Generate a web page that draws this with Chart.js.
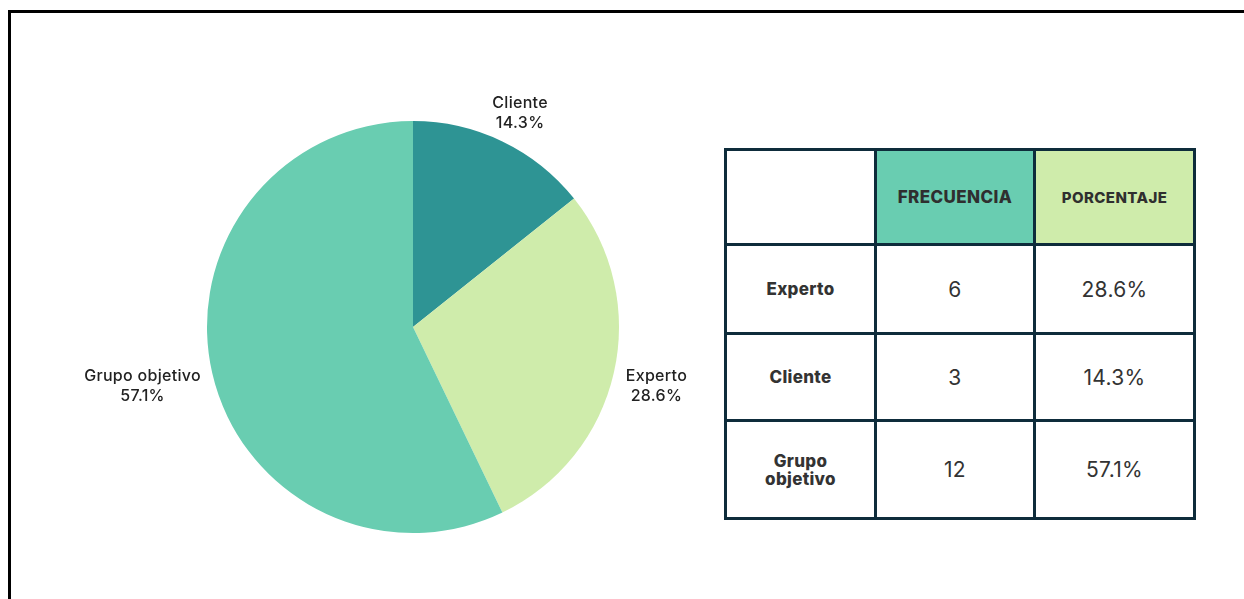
<!DOCTYPE html>
<html lang="es">
<head>
<meta charset="utf-8">
<title>Frecuencia por tipo</title>
<script src="https://cdn.jsdelivr.net/npm/chart.js@4/dist/chart.umd.min.js"></script>
<style>
  html, body { margin: 0; padding: 0; background: #fff; overflow: hidden; }
  body { width: 1244px; height: 599px; position: relative; font-family: Inter, "Noto Sans", sans-serif; }
  .marco { position: absolute; left: 8px; top: 10px; width: 1300px; height: 700px;
           border-top: 3px solid #000; border-left: 3px solid #000; }
  #pieBox { position: absolute; left: 0; top: 0; width: 720px; height: 599px; }
  /* tabla: fondo oscuro + gap = lineas de la rejilla */
  .tabla { position: absolute; left: 724px; top: 148px; display: grid;
           grid-template-columns: 147px 156px 157px; grid-template-rows: 92px 86px 84px 95px;
           gap: 3px; padding: 3px; background: #0e2c3b; }
  .tabla div { background: #fff; display: flex; align-items: center; justify-content: center;
               text-align: center; color: #333; }
  .tabla .cab { font-weight: 800; font-size: 17px; letter-spacing: 0.4px; color: #2f2f2f; }
  .tabla .cab.frec { background: #69cdb1; }
  .tabla .cab.porc { background: #cfecab; font-size: 15px; }
  .tabla .fila { font-weight: 800; font-size: 17px; line-height: 18px; letter-spacing: 0.3px; }
  .tabla .val { font-size: 21px; font-weight: 400; letter-spacing: 0.3px; }
</style>
</head>
<body>
<div class="marco"></div>
<div id="pieBox"><canvas id="pieChart" width="720" height="599"></canvas></div>
<div class="tabla" id="tabla"></div>

<script>
// --- datos ---
const categorias = ['Cliente', 'Experto', 'Grupo objetivo'];
const frecuencias = [3, 6, 12];
const colores = ['#2e9494', '#cfecab', '#69cdb1'];
const ordenTabla = ['Experto', 'Cliente', 'Grupo objetivo'];
const encabezados = ['FRECUENCIA', 'PORCENTAJE'];

const total = frecuencias.reduce((a, b) => a + b, 0);
const porcentajes = frecuencias.map(v => (v / total * 100).toFixed(1) + '%');

// etiquetas fuera del pastel (nombre + porcentaje)
const etiquetasFuera = {
  id: 'etiquetasFuera',
  afterDatasetsDraw(chart) {
    const ctx = chart.ctx;
    const meta = chart.getDatasetMeta(0);
    ctx.save();
    ctx.font = '500 16px Inter, "Noto Sans", sans-serif';
    ctx.letterSpacing = '0.3px';
    ctx.fillStyle = '#222';
    ctx.textAlign = 'center';
    ctx.textBaseline = 'middle';
    meta.data.forEach((arc, i) => {
      const ang = (arc.startAngle + arc.endAngle) / 2;
      const r = arc.outerRadius + 13;
      const px = arc.x + Math.cos(ang) * r;
      const py = arc.y + Math.sin(ang) * r;
      const lineas = [categorias[i], porcentajes[i]];
      const w = Math.max(...lineas.map(t => ctx.measureText(t).width));
      const cx = px + Math.cos(ang) * w / 2;
      // las etiquetas laterales bajan un poco
      const cy = py + Math.sin(ang) * 20 + Math.cos(ang) * Math.cos(ang) * 6;
      ctx.fillText(lineas[0], cx, cy - 10);
      ctx.fillText(lineas[1], cx, cy + 10);
    });
    ctx.restore();
  }
};

function crearPastel() {
  const ctx = document.getElementById('pieChart').getContext('2d');
  new Chart(ctx, {
    type: 'pie',
    data: {
      labels: categorias,
      datasets: [{
        data: frecuencias,
        backgroundColor: colores,
        borderWidth: 0
      }]
    },
    options: {
      responsive: false,
      animation: false,
      layout: { padding: { left: 207, right: 101, top: 121, bottom: 66 } },
      plugins: { legend: { display: false }, tooltip: { enabled: false } }
    },
    plugins: [etiquetasFuera]
  });
}

function rellenarTabla() {
  const t = document.getElementById('tabla');
  let html = '<div></div>';
  html += `<div class="cab frec">${encabezados[0]}</div>`;
  html += `<div class="cab porc">${encabezados[1]}</div>`;
  ordenTabla.forEach(nombre => {
    const i = categorias.indexOf(nombre);
    const etiqueta = nombre === 'Grupo objetivo' ? 'Grupo<br>objetivo' : nombre;
    html += `<div class="fila">${etiqueta}</div>`;
    html += `<div class="val">${frecuencias[i]}</div>`;
    html += `<div class="val">${porcentajes[i]}</div>`;
  });
  t.innerHTML = html;
}

crearPastel();
rellenarTabla();
</script>
</body>
</html>
